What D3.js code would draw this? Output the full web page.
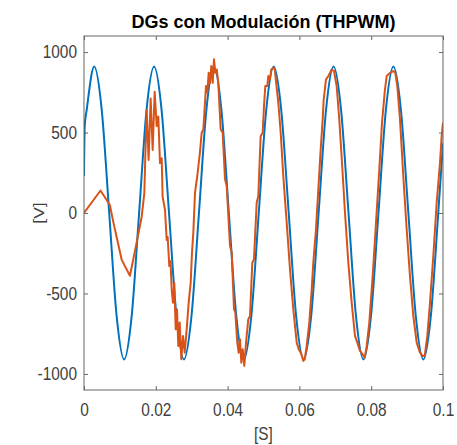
<!DOCTYPE html>
<html>
<head>
<meta charset="utf-8">
<script src="https://cdn.jsdelivr.net/npm/d3@7"></script>
<style>
html,body{margin:0;padding:0;background:#fff;}
svg{display:block;}
</style>
</head>
<body>
<svg id="chart" width="457" height="445"></svg>
<script>
// ---- Data ----
const titleText = "DGs con Modulación (THPWM)";
const xLabel = "[S]";
const yLabel = "[V]";
const xTicks = [0, 0.02, 0.04, 0.06, 0.08, 0.1];
const xTickLabels = ["0", "0.02", "0.04", "0.06", "0.08", "0.1"];
const yTicks = [-1000, -500, 0, 500, 1000];
const yTickLabels = ["-1000", "-500", "0", "500", "1000"];

// Reference voltage (blue)
const refT = [0, 0.0002, 0.00077, 0.00285, 0.00493, 0.00702, 0.00910, 0.01118, 0.01327, 0.01535,
  0.01743, 0.01952, 0.02160, 0.02368, 0.02577, 0.02785, 0.02993, 0.03202, 0.03410, 0.03618,
  0.03827, 0.04035, 0.04243, 0.04452, 0.04660, 0.04868, 0.05077, 0.05285, 0.05493, 0.05702,
  0.05910, 0.06118, 0.06327, 0.06535, 0.06743, 0.06952, 0.07160, 0.07368, 0.07577, 0.07785,
  0.07993, 0.08202, 0.08410, 0.08618, 0.08827, 0.09035, 0.09243, 0.09452, 0.09660, 0.09868, 0.1];
const refV = [230, 540, 643, 910, 643, 0, -643, -910, -643, 0,
  643, 910, 643, 0, -643, -910, -643, 0, 643, 910,
  643, 0, -643, -910, -643, 0, 643, 910, 643, 0,
  -643, -910, -643, 0, 643, 910, 643, 0, -643, -910,
  -643, 0, 643, 910, 643, 0, -643, -910, -643, 0, 434];

// DG output voltage (orange)
const dgT = [0, 0.0023, 0.0046, 0.0072, 0.0082, 0.0105, 0.0114, 0.0128, 0.0146, 0.01607,
  0.0168, 0.0172, 0.01746, 0.018, 0.01857, 0.01913, 0.01969, 0.02025, 0.0207, 0.02117,
  0.02164, 0.0219, 0.02256, 0.02303, 0.02331, 0.02376, 0.0241, 0.02443, 0.02479, 0.02515,
  0.02554, 0.0259, 0.02627, 0.02666, 0.0271, 0.02758, 0.02805,
  0.0286, 0.02916, 0.02972, 0.03008, 0.03045, 0.03092, 0.03156, 0.03231, 0.03278, 0.03325,
  0.0337, 0.03398, 0.03435, 0.03473, 0.0351, 0.03546, 0.03585, 0.03621, 0.03658, 0.03697,
  0.03741, 0.03807, 0.03863, 0.03928, 0.03975, 0.04067, 0.04114, 0.04178, 0.04215, 0.0427,
  0.04309, 0.04345, 0.04382, 0.04421, 0.04465, 0.04513, 0.04577, 0.04624, 0.04688, 0.04735,
  0.0481, 0.04855, 0.04921, 0.04977, 0.05014, 0.0505, 0.05106, 0.05134, 0.05181, 0.05217,
  0.05274, 0.05313, 0.05413, 0.05479, 0.05551, 0.05646, 0.05738, 0.0583, 0.05925, 0.05981,
  0.06036, 0.06072, 0.06109, 0.06148, 0.06203, 0.06276, 0.06343, 0.06387, 0.06462, 0.06527,
  0.06593, 0.06649, 0.06675, 0.06741, 0.06806, 0.06852, 0.06899, 0.06964, 0.07038, 0.07111,
  0.07187, 0.0727, 0.07363, 0.07456, 0.07549, 0.07613, 0.07688, 0.07763, 0.07819, 0.07875,
  0.07947, 0.08042, 0.08134, 0.08226, 0.08301, 0.0838, 0.08431, 0.08524, 0.08616, 0.08671,
  0.08727, 0.08802, 0.08894, 0.08988, 0.0908, 0.09173, 0.09267, 0.09359, 0.09434, 0.0949,
  0.09563, 0.09638, 0.0973, 0.09824, 0.09916, 0.09963, 0.1];
const dgV = [0, 70, 140, 50, -60, -290, -330, -390, -190, -23,
  122, 450, 640, 329, 712, 391, 753, 540, 600, 309,
  340, 101, 20, -168, -150, -330, -300, -478, -557, -433,
  -723, -598, -826, -681, -909, -764, -868,
  -723, -557, -433, -246, -122, 126, 230, 380, 499, 520,
  685, 789, 747, 871, 809, 913, 809, 955, 871, 892,
  809, 520, 499, 209, 168, -205, -246, -598, -619, -806,
  -868, -785, -930, -847, -950, -806, -660, -640, -309, -288,
  64, 106, 478, 499, 665, 789, 789, 851, 830, 892,
  903, 892, 685, 499, 230, -60, -350, -598, -806, -847,
  -868, -888, -919, -909, -826, -681, -474, -309, -101, 147,
  396, 582, 700, 830, 851, 871, 892, 882, 789, 582,
  312, 2, -309, -557, -764, -806, -857, -878, -899, -826,
  -681, -391, -60, 271, 561, 760, 851, 871, 882, 871,
  789, 582, 230, -101, -391, -640, -806, -868, -888, -888,
  -764, -557, -267, 64, 312, 478, 561];

// ---- Layout ----
const svg = d3.select("#chart");
const L = 84, R = 443, T = 36, B = 390;
const x = d3.scaleLinear().domain([0, 0.1]).range([L, R]);
const y = d3.scaleLinear().domain([-1100, 1100]).range([B, T]);
const tickColor = "#404040";
const fontFam = "'Liberation Sans', Arial, Helvetica, sans-serif";

svg.append("defs").append("clipPath").attr("id", "clip")
  .append("rect").attr("x", L).attr("y", T).attr("width", R - L).attr("height", B - T);

// Axes
function styleAxis(g) {
  g.select(".domain").remove();
  g.selectAll(".tick line").attr("stroke", "#666").attr("stroke-width", 1);
  g.selectAll(".tick text").attr("fill", tickColor).style("font-family", fontFam).style("font-size", "17.5px");
}
const gx = svg.append("g").attr("transform", `translate(0,${B})`)
  .call(d3.axisBottom(x).tickValues(xTicks).tickFormat((d, i) => xTickLabels[i]).tickSizeInner(-4).tickSizeOuter(0).tickPadding(13.5));
styleAxis(gx);
gx.selectAll(".tick text").attr("transform", "scale(0.88,1)");

const gy = svg.append("g").attr("transform", `translate(${L},0)`)
  .call(d3.axisLeft(y).tickValues(yTicks).tickFormat((d, i) => yTickLabels[i]).tickSizeInner(-4).tickSizeOuter(0).tickPadding(8));
styleAxis(gy);
gy.selectAll(".tick text").attr("transform", "scale(0.88,1)");

const gt = svg.append("g").attr("transform", `translate(0,${T})`)
  .call(d3.axisTop(x).tickValues(xTicks).tickFormat("").tickSizeInner(-4).tickSizeOuter(0));
styleAxis(gt);
const gr = svg.append("g").attr("transform", `translate(${R},0)`)
  .call(d3.axisRight(y).tickValues(yTicks).tickFormat("").tickSizeInner(-4).tickSizeOuter(0));
styleAxis(gr);

// Lines
const refData = refT.map((t, i) => [t, refV[i]]);
const dgData = dgT.map((t, i) => [t, dgV[i]]);
const plot = svg.append("g").attr("clip-path", "url(#clip)");
plot.append("path").datum(refData)
  .attr("fill", "none").attr("stroke", "#0072BD").attr("stroke-width", 2)
  .attr("d", d3.line().x(d => x(d[0])).y(d => y(d[1])).curve(d3.curveMonotoneX));
plot.append("path").datum(dgData)
  .attr("fill", "none").attr("stroke", "#D95319").attr("stroke-width", 2).attr("stroke-linejoin", "round")
  .attr("d", d3.line().x(d => x(d[0])).y(d => y(d[1])));

// Box
svg.append("rect").attr("x", L).attr("y", T).attr("width", R - L).attr("height", B - T)
  .attr("fill", "none").attr("stroke", "#666").attr("stroke-width", 1);

// Title & labels
svg.append("text").attr("x", (L + R) / 2).attr("y", 28).attr("text-anchor", "middle")
  .style("font-family", fontFam).style("font-size", "18px").style("font-weight", "bold")
  .attr("fill", "#000").text(titleText);
svg.append("text").attr("x", (L + R) / 2).attr("y", 440).attr("text-anchor", "middle")
  .style("font-family", fontFam).style("font-size", "17.5px").attr("fill", tickColor)
  .attr("transform", `translate(${(L + R) / 2 * 0.12},0) scale(0.88,1)`).text(xLabel);
svg.append("text").attr("text-anchor", "middle")
  .attr("transform", `translate(44,${(T + B) / 2}) rotate(-90) scale(1,0.88)`)
  .style("font-family", fontFam).style("font-size", "17.5px").attr("fill", tickColor).text(yLabel);
</script>
</body>
</html>
